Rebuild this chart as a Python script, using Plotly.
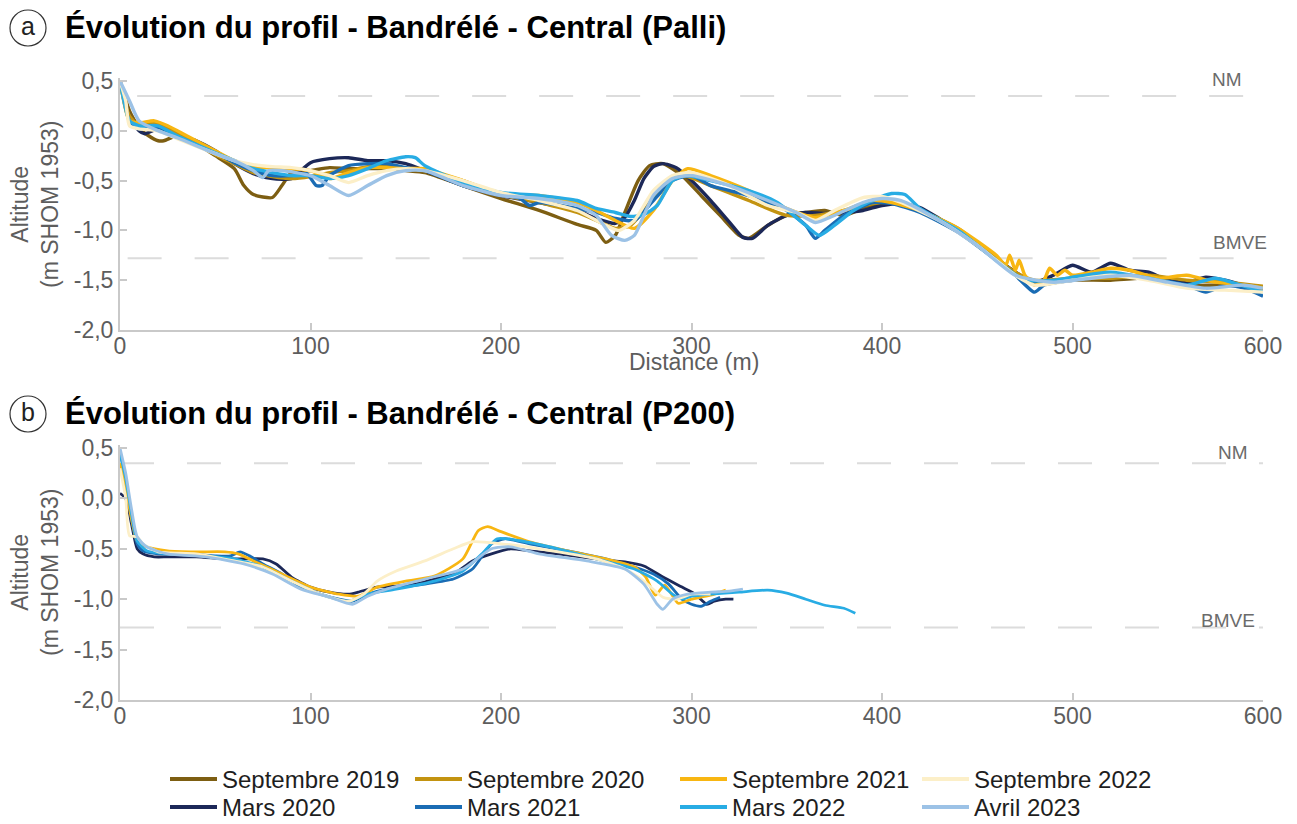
import plotly.graph_objects as go

W, H = 1297, 824

# ---------------- Profil Palli (panel a) ----------------
PALLI_SEP2019_X = [0, 5, 10, 15, 20, 23, 30, 40, 50, 60, 65, 70, 80, 85, 90, 100, 110, 120, 140, 150, 160, 180, 200, 220, 240, 250, 255, 260, 265, 272, 278, 285, 295, 305, 315, 325, 330, 340, 350, 360, 370, 380, 390, 400, 410, 420, 430, 440, 450, 460, 470, 480, 490, 500, 520, 540, 560, 580, 600]
PALLI_SEP2019_Y = [0.5, 0.2, 0.03, -0.05, -0.1, -0.1, -0.05, -0.13, -0.25, -0.38, -0.55, -0.64, -0.67, -0.55, -0.42, -0.4, -0.37, -0.38, -0.38, -0.4, -0.42, -0.55, -0.68, -0.8, -0.94, -1.0, -1.12, -1.05, -0.82, -0.5, -0.35, -0.33, -0.45, -0.65, -0.85, -1.05, -1.08, -0.95, -0.85, -0.82, -0.8, -0.85, -0.78, -0.73, -0.73, -0.8, -0.9, -1.0, -1.13, -1.28, -1.42, -1.52, -1.52, -1.5, -1.5, -1.48, -1.55, -1.55, -1.58]

PALLI_MAR2020_X = [0, 5, 10, 13, 20, 30, 40, 50, 60, 70, 80, 90, 95, 100, 110, 120, 130, 140, 150, 160, 180, 200, 220, 240, 250, 260, 265, 270, 275, 280, 285, 292, 300, 310, 320, 327, 332, 340, 350, 360, 370, 380, 390, 400, 410, 420, 430, 440, 450, 460, 470, 480, 490, 500, 510, 520, 530, 540, 550, 560, 570, 580, 590, 600]
PALLI_MAR2020_Y = [0.5, 0.15, 0.0, -0.03, 0.02, -0.05, -0.1, -0.2, -0.33, -0.43, -0.48, -0.48, -0.4, -0.32, -0.28, -0.27, -0.3, -0.3, -0.33, -0.4, -0.55, -0.65, -0.72, -0.8, -0.88, -0.93, -0.87, -0.7, -0.48, -0.36, -0.33, -0.37, -0.5, -0.7, -0.92, -1.07, -1.08, -0.95, -0.85, -0.82, -0.83, -0.82, -0.8, -0.75, -0.73, -0.77, -0.88, -1.0, -1.12, -1.28, -1.42, -1.52, -1.45, -1.35, -1.42, -1.33, -1.4, -1.42, -1.5, -1.52, -1.47, -1.5, -1.55, -1.58]

PALLI_SEP2020_X = [0, 5, 10, 18, 25, 35, 50, 60, 70, 80, 90, 100, 110, 120, 130, 140, 150, 160, 180, 200, 220, 240, 250, 260, 268, 275, 285, 295, 310, 330, 350, 365, 380, 395, 405, 420, 440, 460, 470, 480, 500, 520, 540, 560, 580, 600]
PALLI_SEP2020_Y = [0.5, 0.15, 0.05, 0.08, 0.03, -0.08, -0.24, -0.33, -0.42, -0.46, -0.48, -0.46, -0.42, -0.4, -0.36, -0.35, -0.38, -0.4, -0.5, -0.64, -0.72, -0.82, -0.9, -0.98, -0.95, -0.8, -0.55, -0.45, -0.55, -0.7, -0.85, -0.85, -0.8, -0.73, -0.72, -0.8, -0.98, -1.28, -1.42, -1.5, -1.48, -1.48, -1.45, -1.5, -1.52, -1.56]

PALLI_MAR2021_X = [0, 5, 10, 20, 30, 50, 60, 70, 80, 90, 98, 103, 106, 110, 120, 130, 140, 150, 160, 180, 200, 210, 215, 220, 240, 250, 260, 270, 280, 290, 300, 310, 320, 330, 350, 360, 365, 370, 380, 395, 405, 420, 440, 460, 470, 480, 485, 500, 520, 540, 560, 570, 580, 590, 600]
PALLI_MAR2021_Y = [0.5, 0.1, 0.02, 0.03, -0.06, -0.22, -0.32, -0.4, -0.45, -0.45, -0.43, -0.55, -0.55, -0.45, -0.35, -0.33, -0.33, -0.37, -0.4, -0.55, -0.64, -0.68, -0.75, -0.72, -0.78, -0.82, -0.88, -0.9, -0.7, -0.5, -0.45, -0.55, -0.6, -0.65, -0.8, -0.95, -1.08, -1.0, -0.85, -0.72, -0.73, -0.82, -1.02, -1.3, -1.45, -1.62, -1.55, -1.5, -1.45, -1.48, -1.55, -1.62, -1.55, -1.58, -1.66]

PALLI_SEP2021_X = [0, 5, 10, 18, 25, 35, 50, 60, 70, 80, 90, 100, 110, 120, 130, 140, 150, 160, 180, 200, 220, 240, 250, 260, 270, 280, 290, 298, 310, 330, 350, 365, 380, 395, 405, 420, 440, 460, 465, 467, 470, 472, 475, 480, 485, 488, 492, 496, 500, 510, 520, 530, 545, 560, 575, 590, 600]
PALLI_SEP2021_Y = [0.5, 0.1, 0.08, 0.1, 0.05, -0.05, -0.2, -0.3, -0.36, -0.37, -0.38, -0.4, -0.48, -0.42, -0.37, -0.37, -0.38, -0.38, -0.5, -0.63, -0.65, -0.72, -0.8, -0.9, -0.98, -0.8, -0.5, -0.38, -0.45, -0.6, -0.78, -0.87, -0.8, -0.7, -0.72, -0.8, -0.98, -1.25, -1.35, -1.25, -1.4, -1.3, -1.45, -1.55, -1.5, -1.38, -1.45, -1.4, -1.45, -1.42, -1.38, -1.4, -1.48, -1.45, -1.52, -1.55, -1.58]

PALLI_MAR2022_X = [0, 5, 10, 20, 30, 50, 60, 70, 80, 90, 100, 110, 120, 130, 140, 150, 155, 160, 180, 200, 220, 240, 250, 260, 268, 275, 282, 290, 297, 310, 330, 345, 360, 367, 375, 385, 395, 405, 412, 420, 440, 460, 475, 490, 500, 520, 540, 560, 575, 590, 600]
PALLI_MAR2022_Y = [0.5, 0.1, 0.05, 0.05, -0.05, -0.22, -0.3, -0.38, -0.42, -0.45, -0.45, -0.48, -0.45, -0.38, -0.3, -0.26, -0.27, -0.35, -0.52, -0.62, -0.65, -0.7, -0.78, -0.82, -0.86, -0.84, -0.75, -0.5, -0.45, -0.5, -0.6, -0.72, -0.95, -1.05, -0.95, -0.8, -0.7, -0.63, -0.64, -0.78, -1.0, -1.3, -1.5, -1.5, -1.47, -1.42, -1.48, -1.55, -1.48, -1.56, -1.62]

PALLI_SEP2022_X = [0, 3, 5, 10, 20, 30, 50, 60, 70, 80, 90, 100, 110, 120, 130, 140, 150, 160, 180, 200, 220, 240, 255, 262, 270, 280, 290, 300, 320, 340, 355, 365, 375, 390, 400, 410, 430, 450, 470, 480, 500, 520, 540, 560, 580, 600]
PALLI_SEP2022_Y = [0.5, 0.3, 0.05, 0.02, 0.0, -0.08, -0.23, -0.3, -0.34, -0.36, -0.37, -0.4, -0.45, -0.52, -0.45, -0.4, -0.38, -0.4, -0.5, -0.62, -0.7, -0.8, -0.95, -1.0, -0.9, -0.6, -0.45, -0.42, -0.55, -0.75, -0.82, -0.9, -0.8, -0.67, -0.66, -0.72, -0.9, -1.15, -1.45, -1.55, -1.5, -1.45, -1.5, -1.58, -1.6, -1.62]

PALLI_AVR2023_X = [0, 5, 10, 20, 30, 50, 60, 70, 75, 78, 85, 100, 110, 120, 130, 140, 150, 160, 180, 200, 220, 240, 250, 258, 265, 270, 275, 280, 290, 300, 320, 340, 355, 365, 375, 390, 400, 410, 430, 450, 470, 490, 510, 530, 550, 570, 590, 600]
PALLI_AVR2023_Y = [0.5, 0.3, 0.1, 0.0, -0.07, -0.23, -0.3, -0.4, -0.47, -0.4, -0.4, -0.45, -0.55, -0.65, -0.55, -0.45, -0.4, -0.4, -0.55, -0.65, -0.68, -0.75, -0.85, -1.05, -1.1, -1.05, -0.85, -0.65, -0.48, -0.45, -0.55, -0.7, -0.82, -0.92, -0.85, -0.72, -0.68, -0.7, -0.9, -1.15, -1.45, -1.52, -1.48, -1.45, -1.52, -1.58, -1.55, -1.58]

# ---------------- Profil P200 (panel b) ----------------
P200_MAR2020_X = [0, 3, 6, 9, 12, 18, 25, 40, 55, 65, 75, 82, 90, 100, 110, 120, 125, 135, 145, 155, 165, 175, 185, 195, 205, 215, 230, 250, 265, 275, 285, 295, 302, 308, 312, 318, 322]
P200_MAR2020_Y = [0.05, 0.0, -0.25, -0.5, -0.55, -0.58, -0.58, -0.58, -0.6, -0.6, -0.6, -0.65, -0.78, -0.88, -0.93, -0.95, -0.93, -0.88, -0.87, -0.85, -0.8, -0.75, -0.62, -0.55, -0.5, -0.52, -0.55, -0.6, -0.63, -0.67, -0.78, -0.88, -0.95, -1.05, -1.02, -1.0, -1.0]

P200_MAR2021_X = [0, 3, 6, 9, 12, 20, 35, 50, 58, 63, 68, 75, 85, 95, 105, 115, 122, 130, 140, 160, 175, 185, 195, 202, 215, 235, 255, 270, 280, 288, 295, 300, 305, 310, 315]
P200_MAR2021_Y = [0.45, 0.2, -0.2, -0.45, -0.52, -0.55, -0.55, -0.57, -0.57, -0.53, -0.57, -0.65, -0.75, -0.88, -0.95, -1.0, -1.02, -0.95, -0.9, -0.85, -0.8, -0.7, -0.45, -0.4, -0.45, -0.52, -0.6, -0.68, -0.75, -0.85, -1.0, -1.05, -1.07, -1.02, -0.98]

P200_SEP2021_X = [0, 3, 6, 9, 14, 25, 40, 55, 62, 70, 85, 100, 115, 125, 135, 150, 165, 180, 188, 193, 200, 215, 235, 255, 270, 276, 281, 286, 293, 300, 305, 312, 318]
P200_SEP2021_Y = [0.35, 0.1, -0.2, -0.42, -0.48, -0.52, -0.53, -0.53, -0.55, -0.62, -0.75, -0.88, -0.95, -0.97, -0.88, -0.82, -0.77, -0.6, -0.32, -0.28, -0.33, -0.43, -0.52, -0.6, -0.68, -0.78, -0.96, -0.86, -1.04, -1.0, -0.98, -0.95, -0.91]

P200_MAR2022_X = [0, 3, 6, 9, 14, 25, 45, 60, 75, 90, 105, 120, 130, 145, 165, 180, 190, 198, 210, 230, 250, 270, 282, 290, 295, 300, 310, 325, 340, 350, 360, 370, 380, 386]
P200_MAR2022_Y = [0.45, 0.2, -0.15, -0.42, -0.52, -0.55, -0.57, -0.6, -0.68, -0.82, -0.95, -1.02, -0.95, -0.9, -0.82, -0.72, -0.55, -0.4, -0.42, -0.5, -0.6, -0.7, -0.82, -0.95, -1.0, -0.97, -0.95, -0.93, -0.91, -0.94, -1.0, -1.06, -1.09, -1.14]

P200_SEP2022_X = [0, 3, 5, 9, 12, 20, 40, 60, 75, 90, 105, 120, 128, 135, 145, 160, 175, 185, 200, 220, 250, 265, 275, 285, 292, 300, 310]
P200_SEP2022_Y = [0.3, 0.0, -0.37, -0.38, -0.45, -0.53, -0.55, -0.62, -0.68, -0.82, -0.95, -1.02, -0.95, -0.82, -0.72, -0.62, -0.5, -0.43, -0.45, -0.5, -0.6, -0.7, -0.82, -0.98, -1.0, -0.95, -0.95]

P200_AVR2023_X = [0, 3, 6, 9, 14, 25, 45, 65, 80, 95, 110, 122, 130, 140, 160, 180, 195, 205, 220, 245, 265, 275, 282, 285, 290, 298, 310, 320, 327]
P200_AVR2023_Y = [0.5, 0.25, -0.1, -0.38, -0.48, -0.55, -0.58, -0.65, -0.75, -0.9, -0.98, -1.05, -0.97, -0.9, -0.8, -0.7, -0.5, -0.48, -0.55, -0.62, -0.7, -0.85, -1.05, -1.1, -1.0, -0.95, -0.93, -0.92, -0.9]

# Campagnes: libellé et couleur
NAMES = ["Septembre 2019", "Septembre 2020", "Septembre 2021", "Septembre 2022",
         "Mars 2020", "Mars 2021", "Mars 2022", "Avril 2023"]
COLORS = {
    "Septembre 2019": "#7d5e12",
    "Septembre 2020": "#c39310",
    "Septembre 2021": "#f8b612",
    "Septembre 2022": "#fcefc8",
    "Mars 2020": "#1c2858",
    "Mars 2021": "#1a6cb4",
    "Mars 2022": "#28ace4",
    "Avril 2023": "#9cc2e6",
}
# ordre de tracé (chronologique)
DRAW_ORDER = ["Septembre 2019", "Mars 2020", "Septembre 2020", "Mars 2021",
              "Septembre 2021", "Mars 2022", "Septembre 2022", "Avril 2023"]

PALLI = {
    "Septembre 2019": (PALLI_SEP2019_X, PALLI_SEP2019_Y),
    "Mars 2020": (PALLI_MAR2020_X, PALLI_MAR2020_Y),
    "Septembre 2020": (PALLI_SEP2020_X, PALLI_SEP2020_Y),
    "Mars 2021": (PALLI_MAR2021_X, PALLI_MAR2021_Y),
    "Septembre 2021": (PALLI_SEP2021_X, PALLI_SEP2021_Y),
    "Mars 2022": (PALLI_MAR2022_X, PALLI_MAR2022_Y),
    "Septembre 2022": (PALLI_SEP2022_X, PALLI_SEP2022_Y),
    "Avril 2023": (PALLI_AVR2023_X, PALLI_AVR2023_Y),
}
P200 = {
    "Mars 2020": (P200_MAR2020_X, P200_MAR2020_Y),
    "Mars 2021": (P200_MAR2021_X, P200_MAR2021_Y),
    "Septembre 2021": (P200_SEP2021_X, P200_SEP2021_Y),
    "Mars 2022": (P200_MAR2022_X, P200_MAR2022_Y),
    "Septembre 2022": (P200_SEP2022_X, P200_SEP2022_Y),
    "Avril 2023": (P200_AVR2023_X, P200_AVR2023_Y),
}

NM_LEVEL = 0.35
BMVE_LEVEL = -1.28

X_TICKS = [0, 100, 200, 300, 400, 500, 600]
Y_TICKS = [-2.0, -1.5, -1.0, -0.5, 0.0, 0.5]
# libellés à la française (virgule décimale, tiret simple)
Y_TICK_TEXT = [f"{v:.1f}".replace(".", ",") for v in Y_TICKS]

TEXT_FONT = "Liberation Sans, Arial, Helvetica, sans-serif"
AXIS_GRAY = "#c9c9c9"
LABEL_GRAY = "#5d5d5d"


def px(x):
    return x / W


def py(y):
    return 1 - y / H


def note(text, x, y, size, color, xanchor="center", **kw):
    """Texte placé en pixels de la figure (origine en haut à gauche)."""
    return dict(text=text, x=px(x), y=py(y), xref="paper", yref="paper", showarrow=False,
                xanchor=xanchor, yanchor="middle",
                font=dict(family=TEXT_FONT, size=size, color=color), **kw)


fig = go.Figure()

for name in DRAW_ORDER:
    xs, ys = PALLI[name]
    fig.add_trace(go.Scatter(x=xs, y=ys, mode="lines", name=name, showlegend=False,
                             line=dict(color=COLORS[name], width=3.4, shape="spline", smoothing=0.6),
                             xaxis="x", yaxis="y"))
for name in DRAW_ORDER:
    if name not in P200:
        continue
    xs, ys = P200[name]
    fig.add_trace(go.Scatter(x=xs, y=ys, mode="lines", name=name, showlegend=False,
                             line=dict(color=COLORS[name], width=2.8, shape="spline", smoothing=0.6),
                             xaxis="x2", yaxis="y2"))

x_dom = [px(120), px(1263)]
axis_common = dict(showgrid=False, zeroline=False, showline=True, linecolor=AXIS_GRAY, linewidth=2,
                   ticks="inside", ticklen=7, tickwidth=1.5, tickcolor=AXIS_GRAY, automargin=False,
                   tickfont=dict(family=TEXT_FONT, size=23, color=LABEL_GRAY))

xa = dict(axis_common, range=[0, 600], tickvals=X_TICKS, domain=x_dom, ticklabelstandoff=-6)
ya = dict(axis_common, range=[-2.0, 0.53], tickvals=Y_TICKS, ticktext=Y_TICK_TEXT)

fig.update_layout(
    width=W, height=H,
    margin=dict(l=0, r=0, t=0, b=0, pad=0),
    paper_bgcolor="white", plot_bgcolor="white",
    showlegend=False,
    xaxis=dict(xa, anchor="y"),
    yaxis=dict(ya, anchor="x", domain=[py(330), py(78)]),
    xaxis2=dict(xa, anchor="y2"),
    yaxis2=dict(ya, anchor="x2", domain=[py(700), py(445)]),
)

shapes = []
annotations = []

# niveaux de référence NM / BMVE
for xref, yref, nm_x, bm_x in [("x", "y", (9, 590), (4, 603)), ("x2", "y2", (0, 600), (0, 600))]:
    for lvl, (x0, x1) in [(NM_LEVEL, nm_x), (BMVE_LEVEL, bm_x)]:
        shapes.append(dict(type="line", xref=xref, yref=yref, x0=x0, x1=x1, y0=lvl, y1=lvl,
                           line=dict(color="#dcdcdc", width=2, dash="34px,33px"), layer="below"))

ref_labels = [("NM", 1227, 80), ("BMVE", 1240, 243), ("NM", 1233, 452), ("BMVE", 1228, 620)]
for txt, x, y in ref_labels:
    annotations.append(note(txt, x, y, 19, "#6b6b6b"))

# titres des panneaux avec lettre cerclée
titles = [("a", "Évolution du profil - Bandrélé - Central (Palli)", 28),
          ("b", "Évolution du profil - Bandrélé - Central (P200)", 414)]
for letter, title, cy in titles:
    shapes.append(dict(type="circle", xref="paper", yref="paper",
                       x0=px(10), x1=px(46), y0=py(cy + 18), y1=py(cy - 18),
                       line=dict(color="#333333", width=1.2)))
    annotations.append(note(letter, 28, cy - 2, 25, "#222222"))
    annotations.append(note("<b>" + title + "</b>", 63, cy - 1, 31, "#000000", xanchor="left"))

# titres d'axes
for cy in (205, 573):
    annotations.append(note("Altitude<br>(m SHOM 1953)", 35, cy, 23, LABEL_GRAY, textangle=-90))
annotations.append(note("Distance (m)", 694, 362, 23, LABEL_GRAY))

# légende commune
col_x = [170, 415, 680, 922]
row_y = [779, 807]
for i, name in enumerate(NAMES):
    r, c = divmod(i, 4)
    x0 = col_x[c]
    y = row_y[r]
    shapes.append(dict(type="line", xref="paper", yref="paper", x0=px(x0), x1=px(x0 + 47),
                       y0=py(y), y1=py(y), line=dict(color=COLORS[name], width=4)))
    annotations.append(note(name, x0 + 50, y, 24, "#1e1e1e", xanchor="left"))

fig.update_layout(shapes=shapes, annotations=annotations)

fig.write_html("out.html")
